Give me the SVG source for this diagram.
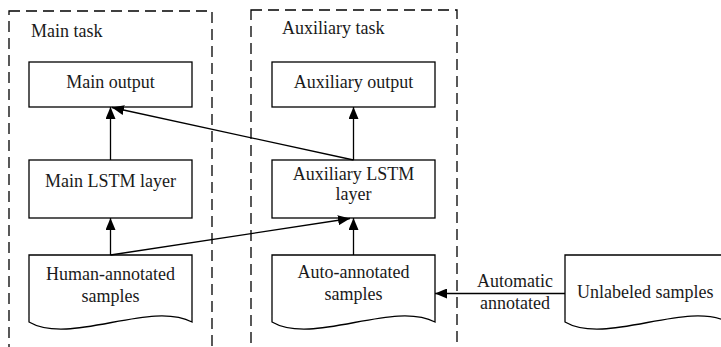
<svg xmlns="http://www.w3.org/2000/svg" width="721" height="347" viewBox="0 0 721 347">
<style>
.box{fill:#fff;stroke:#000;stroke-width:1.3}
.cont{fill:none;stroke:#000;stroke-width:1.3;stroke-dasharray:11 6}
.t{font-family:"Liberation Serif","Times New Roman",serif;font-size:18px;fill:#1a1a1a}
.m{text-anchor:middle}
.c{fill:none;stroke:#000;stroke-width:1.3}
</style>
<defs>
<marker id="ah" markerUnits="userSpaceOnUse" markerWidth="12" markerHeight="10" viewBox="0 0 12 10" refX="12" refY="5" orient="auto">
<path d="M0,0 L12,5 L0,10 Z" fill="#000"/>
</marker>
</defs>
<rect width="721" height="347" fill="#fff"/>
<g id="main-task">
<rect class="cont" x="9" y="11" width="203" height="360"/>
<text class="t" x="31" y="37">Main task</text>
</g>
<g id="aux-task">
<rect class="cont" x="251" y="10" width="206" height="360"/>
<text class="t" x="282" y="34">Auxiliary task</text>
</g>
<g id="main-output">
<rect class="box" x="29" y="62" width="163" height="45"/>
<text class="t m" x="110.5" y="88">Main output</text>
</g>
<g id="main-lstm">
<rect class="box" x="29" y="160" width="163" height="58"/>
<text class="t m" x="110.5" y="187">Main LSTM layer</text>
</g>
<g id="human-samples">
<path class="box" d="M29,255 H192 V322 C150,300 70,346 29,322 Z"/>
<text class="t m" x="110.5" y="280">Human-annotated</text>
<text class="t m" x="110.5" y="302">samples</text>
</g>
<g id="aux-output">
<rect class="box" x="272" y="62" width="163" height="45"/>
<text class="t m" x="353.5" y="88">Auxiliary output</text>
</g>
<g id="aux-lstm">
<rect class="box" x="272" y="160" width="163" height="58"/>
<text class="t m" x="353.5" y="180">Auxiliary LSTM</text>
<text class="t m" x="353.5" y="200">layer</text>
</g>
<g id="auto-samples">
<path class="box" d="M272,255 H435 V322 C393,300 313,346 272,322 Z"/>
<text class="t m" x="353.5" y="278">Auto-annotated</text>
<text class="t m" x="353.5" y="300">samples</text>
</g>
<g id="unlabeled-samples">
<path class="box" d="M565,255 H728 V322 C686,300 606,346 565,322 Z"/>
<text class="t" x="577" y="298">Unlabeled samples</text>
</g>
<g id="connectors">
<line class="c" x1="110.5" y1="160" x2="110.5" y2="107" marker-end="url(#ah)"/>
<line class="c" x1="110.5" y1="255" x2="110.5" y2="218" marker-end="url(#ah)"/>
<line class="c" x1="353.5" y1="160" x2="353.5" y2="107" marker-end="url(#ah)"/>
<line class="c" x1="353.5" y1="255" x2="353.5" y2="218" marker-end="url(#ah)"/>
<line class="c" x1="353.5" y1="160" x2="112" y2="107.5" marker-end="url(#ah)"/>
<line class="c" x1="110.5" y1="255" x2="350" y2="218.5" marker-end="url(#ah)"/>
<line class="c" x1="565" y1="293.5" x2="435" y2="293.5" marker-end="url(#ah)"/>
<text class="t m" x="515" y="287">Automatic</text>
<text class="t m" x="515" y="309">annotated</text>
</g>
</svg>
